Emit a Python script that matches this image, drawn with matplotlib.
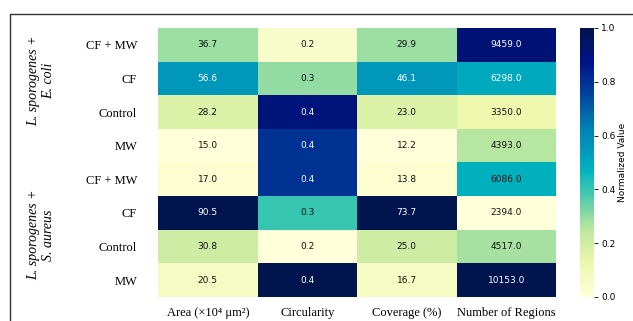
import matplotlib.pyplot as plt
import numpy as np
from matplotlib.colors import ListedColormap, rgb_to_hsv, hsv_to_rgb
from matplotlib.lines import Line2D

# rows: treatment within each co-culture, top to bottom
conditions = ["CF + MW", "CF", "Control", "MW", "CF + MW", "CF", "Control", "MW"]
groups = ["L. sporogenes +\nE. coli", "L. sporogenes +\nS. aureus"]
metrics = ["Area (×10⁴ μm²)", "Circularity", "Coverage (%)", "Number of Regions"]

area = [36.7, 56.6, 28.2, 15.0, 17.0, 90.5, 30.8, 20.5]
circularity = [0.21, 0.26, 0.38, 0.36, 0.36, 0.28, 0.20, 0.40]
coverage = [29.9, 46.1, 23.0, 12.2, 13.8, 73.7, 25.0, 16.7]
regions = [9459, 6298, 3350, 4393, 6086, 2394, 4517, 10153]

serif = ["Liberation Serif", "DejaVu Serif"]

raw = np.column_stack([area, circularity, coverage, regions]).astype(float)
# min-max scale each metric column
norm = (raw - raw.min(axis=0)) / (raw.max(axis=0) - raw.min(axis=0))

# a punchier YlGnBu: saturation pushed up from the green band onward,
# pale end left mostly alone, deep end darkened a little
t = np.linspace(0, 1, 256)
base = plt.get_cmap("YlGnBu")(t)[:, :3]
hsv = rgb_to_hsv(base)
boost = 1.0 + 0.7 * np.clip((t - 0.1) / 0.3, 0, 1)
hsv[:, 1] = np.clip(hsv[:, 1] * boost, 0, 1)
hsv[:, 2] = hsv[:, 2] * (1 - 0.12 * t ** 2)
cmap = ListedColormap(hsv_to_rgb(hsv))

fig = plt.figure(figsize=(6.33, 3.21), dpi=100)
ax = fig.add_axes([0.2496, 0.0748, 0.6288, 0.838])
cax = fig.add_axes([0.9163, 0.0748, 0.0221, 0.838])

mesh = ax.pcolormesh(norm, cmap=cmap, vmin=0, vmax=1)
ax.set_xlim(0, 4)
ax.set_ylim(8, 0)

for i in range(raw.shape[0]):
    for j in range(raw.shape[1]):
        color = "white" if norm[i, j] > 0.49 else "#111111"
        ax.text(j + 0.5, i + 0.5, f"{raw[i, j]:.1f}", ha="center", va="center",
                fontsize=6.5, color=color)

ax.set_xticks(np.arange(4) + 0.5)
ax.set_xticklabels(metrics, family=serif, fontsize=9)
ax.set_yticks(np.arange(8) + 0.5)
ax.set_yticklabels(conditions, family=serif, fontsize=9)
ax.tick_params(length=0, pad=7)
ax.tick_params(axis="y", pad=15)
for s in ax.spines.values():
    s.set_visible(False)

cb = fig.colorbar(mesh, cax=cax)
cb.outline.set_visible(False)
cb.set_ticks([0.0, 0.2, 0.4, 0.6, 0.8, 1.0])
cb.ax.tick_params(labelsize=6.5, length=3, width=0.6, pad=2)
cb.set_label("Normalized Value", fontsize=6.5, labelpad=2)

fig.text(0.065, 0.748, groups[0], rotation=90, ha="center", va="center",
         family=serif, style="italic", fontsize=10, multialignment="center")
fig.text(0.065, 0.268, groups[1], rotation=90, ha="center", va="center",
         family=serif, style="italic", fontsize=10, multialignment="center")

# border around the panel
fig.add_artist(Line2D([0.0158, 0.0158, 1.0], [0.0, 0.9564, 0.9564],
                      transform=fig.transFigure, color="#333333", lw=1))

fig.savefig("out.png", dpi=100)
